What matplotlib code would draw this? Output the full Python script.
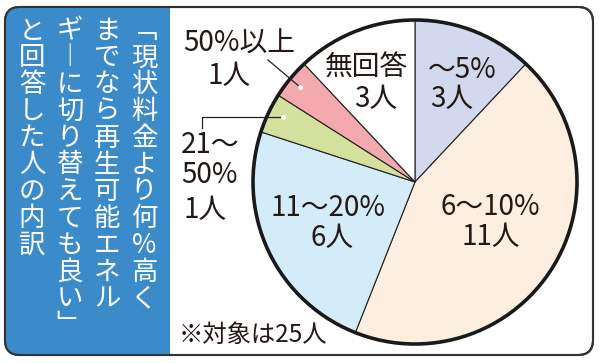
import matplotlib
matplotlib.use("Agg")
import matplotlib.pyplot as plt
from matplotlib.patches import FancyBboxPatch, Rectangle, Circle

plt.rcParams['font.family'] = ['Noto Sans CJK JP', 'DejaVu Sans']

# data
labels = ["～5%", "6～10%", "11～20%", "21～\n50%", "50%以上", "無回答"]
counts = [3, 11, 6, 1, 1, 3]
colors = ["#d2d9ef", "#fdefdf", "#d4ecf9", "#d3e19c", "#f3a9ad", "#ffffff"]
title_cols = ["「現状料金より何%高く", "までなら再生可能エネル",
              "ギーに切り替えても良い」", "と回答した人の内訳"]
note = "※対象は25人"

W, H = 600, 363
fig = plt.figure(figsize=(6, 3.63), dpi=100)
ax = fig.add_axes([0, 0, 1, 1])

def Y(y):
    # pixel row (from top) -> data y
    return H - y

# outer rounded frame
frame = FancyBboxPatch((5, Y(355)), 588, 348, boxstyle="round,pad=0,rounding_size=15",
                       facecolor="white", edgecolor="#333333", linewidth=1.5, zorder=1)
ax.add_patch(frame)
blue = Rectangle((0, 0), 170, H, facecolor="#3b8bca", edgecolor="none", zorder=2)
ax.add_patch(blue)
blue.set_clip_path(frame)
frame2 = FancyBboxPatch((5, Y(355)), 588, 348, boxstyle="round,pad=0,rounding_size=15",
                        facecolor="none", edgecolor="#333333", linewidth=1.5, zorder=3)
ax.add_patch(frame2)

# vertical title, right to left (vertical presentation forms for brackets / long mark)
col_x = [144, 107, 70, 32]
step = 26.8
vert = {"「": "﹁", "」": "﹂", "ー": "︱"}
for cx, col in zip(col_x, title_cols):
    for i, ch in enumerate(col):
        ax.text(cx, Y(31 + i * step), vert.get(ch, ch), color="white", fontsize=19,
                ha="center", va="center", zorder=4)

# pie
cx, cy, r = 415, Y(182), 162
wedges, _ = ax.pie(counts, colors=colors, startangle=90, counterclock=False,
                   center=(cx, cy), radius=r, frame=True,
                   wedgeprops=dict(edgecolor="#222222", linewidth=0.8))
for w in wedges:
    w.set_zorder(4)
ax.add_patch(Circle((cx, cy), r, facecolor="none", edgecolor="#1a1a1a",
                    linewidth=2.6, zorder=5))

tc = "#231815"
fs = 20
def lab(x, y, s, ha="center", size=fs):
    ax.text(x, Y(y), s, fontsize=size, color=tc, ha=ha, va="center",
            linespacing=1.1, zorder=7)

lab(462, 70, labels[0])
lab(452, 99, f"{counts[0]}人")
lab(490, 207, labels[1])
lab(491, 237, f"{counts[1]}人")
lab(328, 208, labels[2])
lab(332, 238, f"{counts[2]}人")
lab(181, 145, "21～", ha="left")
lab(181, 175, "50%", ha="left")
lab(183, 210, f"{counts[3]}人", ha="left")
lab(239, 44, labels[4])
lab(229, 76, f"{counts[4]}人")
lab(366, 68, labels[5])
lab(376, 99, f"{counts[5]}人")
lab(179, 335, note, ha="left", size=17.5)

# leader lines
ax.plot([268, 300], [Y(60), Y(87)], color="#222222", lw=0.9, zorder=6)
ax.plot([300], [Y(87)], "o", ms=3.5, mfc="white", mec="none", zorder=6)
ax.plot([202, 202, 283], [Y(128), Y(117), Y(117)], color="#222222", lw=0.9, zorder=6)
ax.plot([283], [Y(117)], "o", ms=3.5, mfc="white", mec="none", zorder=6)

ax.set_xlim(0, W)
ax.set_ylim(0, H)
ax.set_aspect("auto")
ax.axis("off")

fig.savefig("out.png", dpi=100)
